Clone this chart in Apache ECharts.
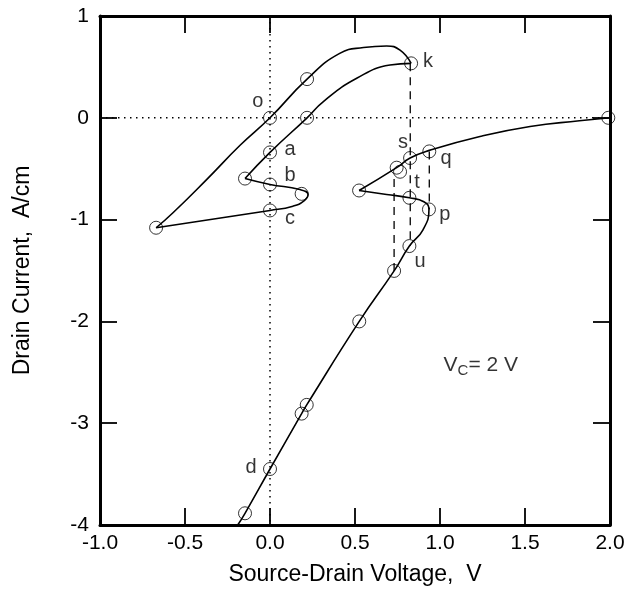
<!DOCTYPE html>
<html>
<head>
<meta charset="utf-8">
<script src="https://cdn.jsdelivr.net/npm/echarts@6/dist/echarts.min.js"></script>
<style>
  html,body{margin:0;padding:0;background:#fff;}
  #main{width:637px;height:591px;}
</style>
</head>
<body>
<div id="main"></div>
<script>
// 坐标轴刻度
var xTicks = [-1.0, -0.5, 0.0, 0.5, 1.0, 1.5, 2.0];
var yTicks = [-4, -3, -2, -1, 0, 1];

// 上方回线 (o -> k)
var loopUpper = [[-0.67,-1.08],[-0.569,-0.93],[-0.373,-0.607],[-0.176,-0.27],[0,0],[0.218,0.38],[0.41,0.633],[0.55,0.69],[0.686,0.705],[0.765,0.665],[0.83,0.535]];
// k -> a -> 左转折点
var loopBack = [[0.83,0.535],[0.706,0.518],[0.51,0.388],[0.314,0.16],[0.218,0],[0,-0.34],[-0.147,-0.597]];
// b -> c -> 最左点
var loopTail = [[-0.147,-0.597],[0,-0.655],[0.176,-0.705],[0.224,-0.753],[0.2,-0.815],[0.135,-0.868],[0,-0.91],[-0.67,-1.08]];
// 右侧曲线 (2.0 -> q -> s)
var rightUpper = [[2.0,0],[1.82,-0.029],[1.53,-0.085],[1.235,-0.183],[0.937,-0.32],[0.824,-0.395],[0.745,-0.49],[0.524,-0.714]];
// t -> p -> u -> d
var rightLower = [[0.524,-0.714],[0.686,-0.753],[0.82,-0.786],[0.905,-0.825],[0.935,-0.90],[0.90,-1.10],[0.82,-1.26],[0.73,-1.504],[0.525,-2.0],[0.216,-2.82],[0.186,-2.906],[0,-3.45],[-0.147,-3.885],[-0.19,-4.0]];

// 圆圈标记点
var markerPts = [[0,0],[0.218,0.38],[0.83,0.535],[0.218,0],[0,-0.34],[0,-0.655],[-0.147,-0.597],[0.186,-0.747],[0,-0.91],[-0.67,-1.08],
  [1.99,0],[0.937,-0.33],[0.824,-0.395],[0.745,-0.49],[0.765,-0.53],[0.524,-0.714],[0.82,-0.786],[0.935,-0.90],[0.82,-1.26],[0.73,-1.504],
  [0.525,-2.0],[0.216,-2.82],[0.186,-2.906],[0,-3.45],[-0.147,-3.885]];

// 字母标注
var labelNames = ['o','a','b','c','d','k','s','q','t','p','u'];
var labelX = [-0.071, 0.118, 0.118, 0.118, -0.112, 0.929, 0.782, 1.035, 0.865, 1.029, 0.882];
var labelY = [0.157, -0.313, -0.567, -0.988, -3.434, 0.558, -0.245, -0.401, -0.636, -0.949, -1.409];

// 虚线
var dashX = [0.825, 0.937, 0.73];
var dashTop = [0.535, -0.33, -0.6];
var dashBottom = [-1.26, -0.90, -1.504];

var font = 'Liberation Sans';

var myChart = echarts.init(document.getElementById('main'));

var series = [];
// 点线 x=0, y=0
series.push({type:'line', data:[[0,yTicks[yTicks.length-1]],[0,yTicks[0]]], symbol:'none', silent:true,
  lineStyle:{color:'#000', width:1.5, type:[1.5,4.5]}, z:1});
series.push({type:'line', data:[[xTicks[0],0],[xTicks[xTicks.length-1],0]], symbol:'none', silent:true,
  lineStyle:{color:'#000', width:1.5, type:[1.5,4.5]}, z:1});
for (var i = 0; i < dashX.length; i++) {
  series.push({type:'line', data:[[dashX[i],dashTop[i]],[dashX[i],dashBottom[i]]], symbol:'none', silent:true,
    lineStyle:{color:'#000', width:1.3, type:[8,6]}, z:2});
}
// 曲线
[loopUpper, loopBack, loopTail, rightUpper, rightLower].forEach(function(seg){
  series.push({type:'line', data:seg, symbol:'none', smooth:0.5, silent:true,
    lineStyle:{color:'#000', width:1.6}, z:3});
});
// 圆圈
series.push({type:'scatter', data:markerPts, symbol:'circle', symbolSize:13, silent:true,
  itemStyle:{color:'rgba(0,0,0,0)', borderColor:'#000', borderWidth:1}, z:4});
// 字母
series.push({type:'scatter', symbolSize:0, silent:true, z:5,
  data: labelNames.map(function(n, i){ return {name:n, value:[labelX[i], labelY[i]]}; }),
  label:{show:true, position:'inside', formatter:'{b}', color:'#000', fontSize:20, fontFamily:font}});
// V_C = 2 V
series.push({type:'scatter', symbolSize:0, silent:true, z:5,
  data:[[1.24,-2.43]],
  label:{show:true, position:'inside', formatter:'{a|V}{b|C}{a|= 2 V}',
    rich:{
      a:{fontSize:21, fontFamily:font, color:'#000'},
      b:{fontSize:15, fontFamily:font, color:'#000', padding:[12,0,0,0]}
    }}});

var axisLineStyle = {color:'#000', width:3};
var tickStyle = {show:true, inside:true, length:17, lineStyle:{color:'#000', width:1.8}};

myChart.setOption({
  animation:false,
  grid:{left:100, right:27, top:16, bottom:64},
  xAxis:[{
    type:'value', min:xTicks[0], max:xTicks[xTicks.length-1], interval:0.5, position:'bottom',
    name:'Source-Drain Voltage,  V', nameLocation:'middle', nameGap:38,
    nameTextStyle:{fontSize:23, fontFamily:font, color:'#000'},
    axisLine:{show:true, onZero:false, lineStyle:axisLineStyle},
    axisTick:tickStyle,
    axisLabel:{fontSize:21, fontFamily:font, color:'#000', margin:8, formatter:function(v){return v.toFixed(1);}},
    splitLine:{show:false}
  },{
    type:'value', min:xTicks[0], max:xTicks[xTicks.length-1], interval:0.5, position:'top',
    axisLine:{show:true, onZero:false, lineStyle:axisLineStyle},
    axisTick:tickStyle, axisLabel:{show:false}, splitLine:{show:false}
  }],
  yAxis:[{
    type:'value', min:yTicks[0], max:yTicks[yTicks.length-1], interval:1, position:'left',
    name:'Drain Current,  A/cm', nameLocation:'middle', nameGap:66, nameRotate:90,
    nameTextStyle:{fontSize:23, fontFamily:font, color:'#000'},
    axisLine:{show:true, onZero:false, lineStyle:axisLineStyle},
    axisTick:tickStyle,
    axisLabel:{fontSize:21, fontFamily:font, color:'#000', margin:11},
    splitLine:{show:false}
  },{
    type:'value', min:yTicks[0], max:yTicks[yTicks.length-1], interval:1, position:'right',
    axisLine:{show:true, onZero:false, lineStyle:axisLineStyle},
    axisTick:tickStyle, axisLabel:{show:false}, splitLine:{show:false}
  }],
  series:series
});
</script>
</body>
</html>
